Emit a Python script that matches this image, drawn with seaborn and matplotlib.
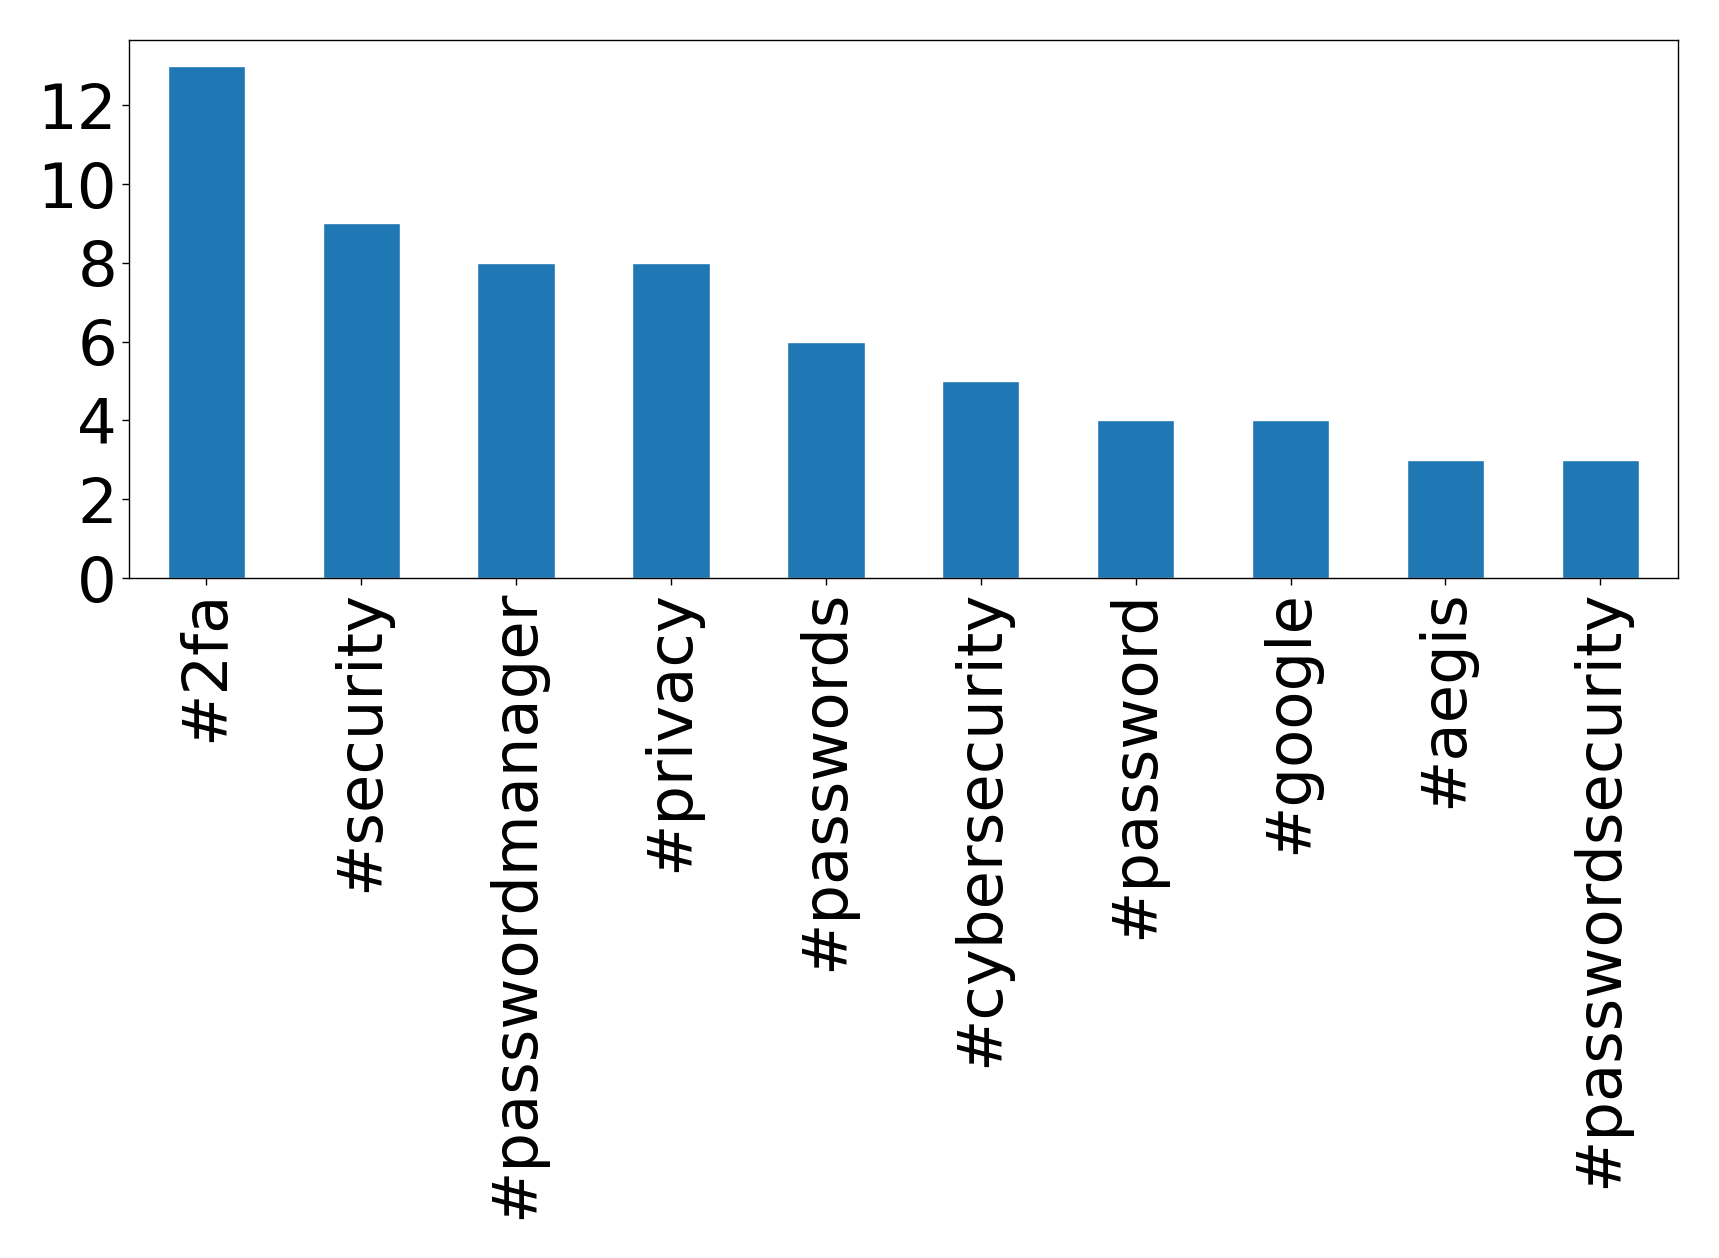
import matplotlib
matplotlib.use("Agg")
import matplotlib.pyplot as plt
import pandas as pd
import seaborn as sns

sns.set_style("white")
plt.rcParams['font.family'] = ['DejaVu Sans']

# hashtag counts
hashtags = ['#2fa', '#security', '#passwordmanager', '#privacy', '#passwords',
            '#cybersecurity', '#password', '#google', '#aegis', '#passwordsecurity']
counts = [13, 9, 8, 8, 6, 5, 4, 4, 3, 3]
yticks = [0, 2, 4, 6, 8, 10, 12]

df = pd.DataFrame({'hashtag': hashtags, 'count': counts})

fig, ax = plt.subplots(figsize=(17.19, 12.58), dpi=100)
fig.subplots_adjust(left=0.075, right=0.976, top=0.968, bottom=0.5405)
sns.barplot(x='hashtag', y='count', data=df, color='#1f77b4', saturation=1,
            width=0.5, ax=ax)
ax.set_xlim(-0.5, len(hashtags) - 0.5)
ax.set_ylim(0, max(counts) * 1.05)
ax.set_yticks(yticks)
ax.set_xlabel('')
ax.set_ylabel('')
for s in ax.spines.values():
    s.set_color('black')
    s.set_linewidth(1)
ax.tick_params(axis='both', labelsize=45, length=5, width=1, color='black',
               labelcolor='black', left=True, bottom=True)
plt.xticks(rotation=90)
plt.savefig('out.png', dpi=100)
